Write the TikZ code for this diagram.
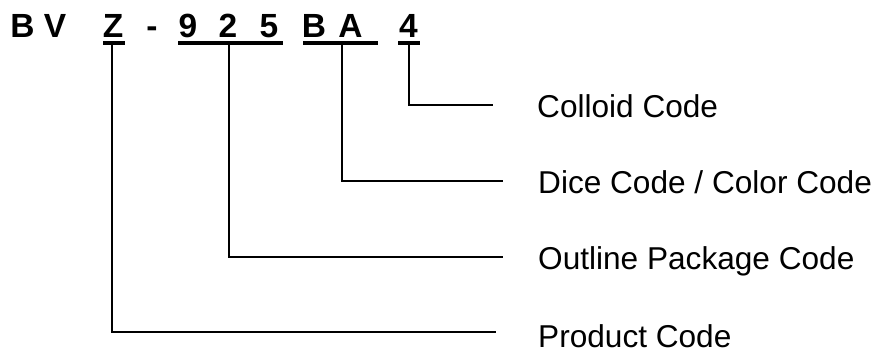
\documentclass[tikz,border=0pt]{standalone}
\usepackage{fontspec}
\setmainfont{Liberation Sans}
\begin{document}
\begin{tikzpicture}[x=1pt,y=-1pt,
  code/.style={font=\fontsize{33.5}{40}\selectfont\bfseries, inner sep=0pt, anchor=base},
  lab/.style={font=\fontsize{31.6}{38}\selectfont, inner sep=0pt, anchor=base west},
  uline/.style={line width=3.5pt},
  conn/.style={line width=1.8pt}]
\useasboundingbox (0,0) rectangle (880,349);
% code characters
\node[code] (c1) at (22.5,37.5) {B};
\node[code] (c2) at (55,37.5) {V};
\node[code] (c3) at (113,37.5) {Z};
\node[code] (c4) at (152,37.5) {-};
\node[code] (c5) at (188,37.5) {9};
\node[code] (c6) at (228,37.5) {2};
\node[code] (c7) at (269,37.5) {5};
\node[code] (c8) at (314,37.5) {B};
\node[code] (c9) at (350.5,37.5) {A};
\node[code] (c10) at (408.5,37.5) {4};
% underlines
\coordinate (uza) at (103,43); \coordinate (uzb) at (125,43);
\coordinate (una) at (178,43); \coordinate (unb) at (283,43);
\coordinate (uba) at (303,43); \coordinate (ubb) at (378,43);
\coordinate (ufa) at (398,43); \coordinate (ufb) at (420,43);
\draw[uline] (uza) -- (uzb);
\draw[uline] (una) -- (unb);
\draw[uline] (uba) -- (ubb);
\draw[uline] (ufa) -- (ufb);
% labels
\node[lab] (colloid) at (537,117) {Colloid Code};
\node[lab] (dice) at (538,193) {Dice Code / Color Code};
\node[lab] (outline) at (538,269) {Outline Package Code};
\node[lab] (product) at (538,347) {Product Code};
% connectors
\coordinate (s4) at (409,44.5); \coordinate (e4) at (493,105);
\coordinate (sb) at (342,44.5); \coordinate (eb) at (503,181);
\coordinate (sn) at (229,44.5); \coordinate (en) at (503,257);
\coordinate (sz) at (112,44.5); \coordinate (ez) at (496,332);
\draw[conn] (s4) |- (e4);
\draw[conn] (sb) |- (eb);
\draw[conn] (sn) |- (en);
\draw[conn] (sz) |- (ez);
\end{tikzpicture}
\end{document}
